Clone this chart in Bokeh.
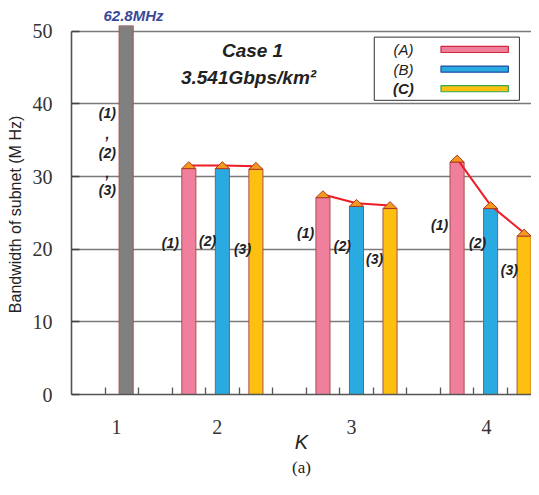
from bokeh.plotting import figure
from bokeh.models import Range1d, FixedTicker, Title
from bokeh.core.properties import value
from bokeh.embed import file_html
from bokeh.resources import INLINE

# ---------------- data ----------------
k_labels = ["1", "2", "3", "4"]
k_label_pos = [1.34, 4.35, 8.35, 12.38]

# K = 1 : single bar (true value 62.8 MHz, clipped at the top of the axis)
k1_x = [1.63]
k1_val = [62.8]
k1_text = "62.8MHz"

series_names = ["(A)", "(B)", "(C)"]
series_colors = ["#F07F9E", "#29ABE2", "#FDC010"]
legend_edge = ["#D0283A", "#1F4E9E", "#33A852"]

# K = 2, 3, 4 bar positions per series
xA = [3.5, 7.5, 11.5]
xB = [4.5, 8.5, 12.5]
xC = [5.5, 9.5, 13.5]
valA = [31.1, 27.1, 32.0]
valB = [31.1, 25.9, 25.6]
valC = [31.0, 25.6, 21.8]

y_ticks = [0, 10, 20, 30, 40, 50]
x_minor = list(range(1, 15))

BAR_W = 0.42
EDGE = "#A8504A"

p = figure(width=531, height=479,
           x_range=Range1d(0, 13.72), y_range=Range1d(0, 50.8),
           output_backend="svg", toolbar_location=None,
           min_border_left=71, min_border_right=0,
           min_border_top=25, min_border_bottom=85)
p.outline_line_color = None
p.background_fill_color = "white"
p.border_fill_color = "white"

# title used for the clipped-bar value above the frame
p.title.text = k1_text
p.title.align = "left"
p.title.offset = 32
p.title.standoff = 3
p.title.text_font = "Liberation Sans"
p.title.text_font_style = "bold italic"
p.title.text_font_size = "15px"
p.title.text_color = "#3A4A9A"

# grid
p.xgrid.visible = False
p.ygrid.ticker = FixedTicker(ticks=y_ticks)
p.ygrid.grid_line_color = "#7a7a7a"
p.ygrid.grid_line_width = 1.3

# y axis
ya = p.yaxis[0]
ya.ticker = FixedTicker(ticks=y_ticks)
ya.bounds = (0, 50)
ya.axis_line_color = "#555555"
ya.axis_line_width = 1.6
ya.major_tick_in = 8
ya.major_tick_out = 0
ya.major_tick_line_color = "#444444"
ya.major_tick_line_width = 1.6
ya.minor_tick_line_color = None
ya.major_label_text_font = "Liberation Serif"
ya.major_label_text_font_size = "20px"
ya.major_label_text_color = "#333333"
ya.major_label_standoff = 19
ya.axis_label = "Bandwidth of subnet   (M Hz)"
ya.axis_label_text_font = "Liberation Sans"
ya.axis_label_text_font_style = "normal"
ya.axis_label_text_font_size = "16px"
ya.axis_label_text_color = "#222222"
ya.axis_label_standoff = 6

# x axis
xa = p.xaxis[0]
xa.ticker = FixedTicker(ticks=k_label_pos, minor_ticks=x_minor)
xa.major_label_overrides = {pos: lab for pos, lab in zip(k_label_pos, k_labels)}
xa.axis_line_color = "#555555"
xa.axis_line_width = 1.6
xa.major_tick_in = 0
xa.major_tick_out = 0
xa.minor_tick_in = 7
xa.minor_tick_out = 0
xa.minor_tick_line_color = "#555555"
xa.minor_tick_line_width = 1.3
xa.major_label_text_font = "Liberation Serif"
xa.major_label_text_font_size = "20px"
xa.major_label_text_color = "#333333"
xa.major_label_standoff = 25
xa.axis_label = "K"
xa.axis_label_text_font = "Liberation Sans"
xa.axis_label_text_font_style = "italic"
xa.axis_label_text_font_size = "20px"
xa.axis_label_text_color = "#222222"
xa.axis_label_standoff = -6

p.add_layout(Title(text="(a)", align="center", offset=4, standoff=0,
                   text_font="Liberation Serif", text_font_style="normal",
                   text_font_size="17px", text_color="#222222"), "below")

# bars
p.vbar(x=k1_x, top=k1_val, bottom=0, width=BAR_W,
       fill_color="#808080", line_color=EDGE, line_width=1)
for xs, vals, col in zip([xA, xB, xC], [valA, valB, valC], series_colors):
    p.vbar(x=xs, top=vals, bottom=0, width=BAR_W,
           fill_color=col, line_color=EDGE, line_width=1)

# red connecting lines (one per K group) and triangle markers
TRI_H = 0.95
line_xs, line_ys = [], []
for i in range(len(valA)):
    line_xs.append([xA[i], xB[i], xC[i]])
    line_ys.append([valA[i] + TRI_H * 0.45, valB[i] + TRI_H * 0.45, valC[i] + TRI_H * 0.45])
p.multi_line(xs=line_xs, ys=line_ys, line_color="#EE1C25", line_width=2)

tri_xs, tri_ys = [], []
for xs, vals in zip([xA, xB, xC], [valA, valB, valC]):
    for x, v in zip(xs, vals):
        tri_xs.append([x - BAR_W / 2, x, x + BAR_W / 2])
        tri_ys.append([v, v + TRI_H, v])
p.patches(xs=tri_xs, ys=tri_ys, fill_color="#F39A1E", line_color="#B03A1E", line_width=1)

# in-plot labels
lab_font = dict(text_font=value("Liberation Sans"), text_font_style="bold italic",
                text_font_size="14px", text_color="#222222",
                text_align="center", text_baseline="middle")
k1_lab_x = [1.07] * 5
k1_lab_y = [38.7, 35.9, 33.3, 30.5, 28.1]
k1_lab_t = ["(1)", ",", "(2)", ",", "(3)"]
p.text(x=k1_lab_x, y=k1_lab_y, text=k1_lab_t, **lab_font)

grp_lab_x = [2.95, 4.06, 5.10, 6.98, 8.08, 9.04, 10.98, 12.11, 13.06]
grp_lab_y = [20.8, 21.2, 20.0, 22.3, 20.5, 18.6, 23.3, 20.8, 17.2]
grp_lab_t = ["(1)", "(2)", "(3)"] * 3
p.text(x=grp_lab_x, y=grp_lab_y, text=grp_lab_t, **lab_font)

# case text
p.text(x=[5.40, 5.28], y=[47.4, 43.7], text=["Case 1", "3.541Gbps/km\u00b2"],
       text_font=value("Liberation Sans"), text_font_style="bold italic",
       text_font_size="19px", text_color="#222222",
       text_align="center", text_baseline="middle")

# legend box (manual, label left of swatch)
p.quad(left=[9.03], right=[13.36], bottom=[40.5], top=[49.2],
       fill_color="white", line_color="#333333", line_width=1)
leg_y = [47.5, 44.8, 42.1]
p.quad(left=[11.02] * 3, right=[13.03] * 3,
       bottom=[y - 0.42 for y in leg_y], top=[y + 0.42 for y in leg_y],
       fill_color=series_colors, line_color=legend_edge, line_width=1.2)
p.text(x=[9.9] * 3, y=leg_y, text=series_names,
       text_font=value("Liberation Sans"),
       text_font_style=["italic", "italic", "bold italic"],
       text_font_size="15px", text_color="#222222",
       text_align="center", text_baseline="middle")

open("out.html", "w").write(file_html(p, INLINE))
